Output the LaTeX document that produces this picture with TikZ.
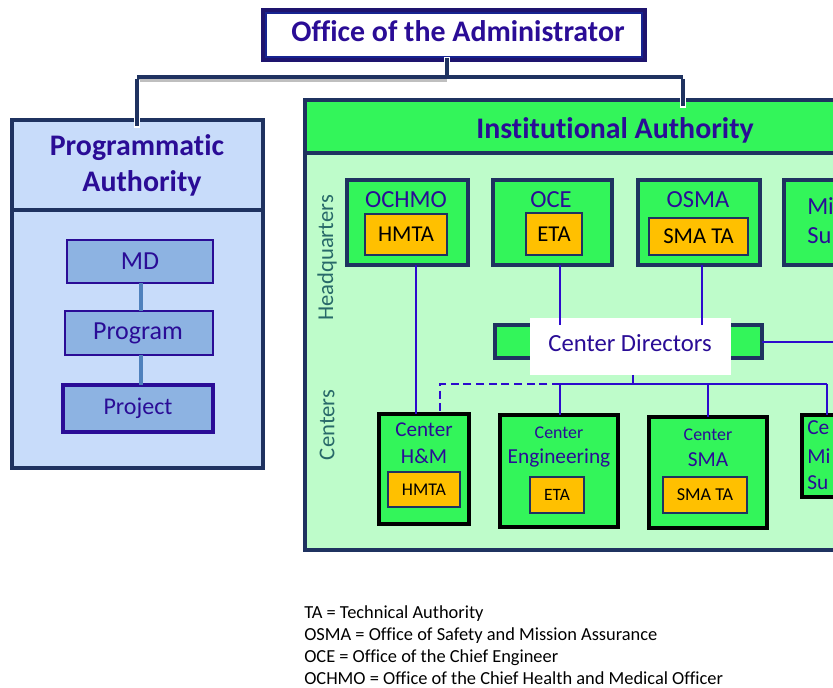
\documentclass[tikz,border=0pt]{standalone}
\usepackage{fontspec}
\setmainfont[Ligatures={NoCommon}]{Carlito}
\usetikzlibrary{calc}
\definecolor{ink}{RGB}{42,12,150}
\definecolor{navy}{RGB}{31,50,96}
\definecolor{bgreen}{RGB}{51,245,90}
\definecolor{lgreen}{RGB}{190,252,202}
\definecolor{lblue}{RGB}{200,220,250}
\definecolor{mblue}{RGB}{141,179,226}
\definecolor{orng}{RGB}{255,192,0}
\definecolor{wire}{RGB}{45,10,205}
\definecolor{tealtext}{RGB}{40,105,105}
\definecolor{pale}{RGB}{79,129,189}
\definecolor{ddeep}{RGB}{30,20,110}
\newcommand\fsz[1]{\fontsize{#1pt}{#1pt}\selectfont}
\newcommand\bx[6]{\node[#6, anchor=north west, inner sep=0pt, outer sep=0pt, minimum width={(#4-#2)*0.75pt}, minimum height={(#5-#3)*0.75pt}] (#1) at (#2,#3) {};}
\tikzset{
  lbl/.style={text=ink, inner sep=0pt, anchor=center},
  blk/.style={text=black, inner sep=0pt, anchor=center},
  hqbox/.style={fill=bgreen, draw=navy, line width=3.4pt},
  cbox/.style={fill=bgreen, draw=black, line width=2.6pt},
  tabox/.style={fill=orng, draw=navy, line width=1.5pt},
  pbox/.style={fill=mblue, draw=ink, line width=2.2pt},
  wireline/.style={draw=wire, line width=2.2pt},
  barline/.style={draw=navy, line width=2.4pt},
  barshadow/.style={draw=black!25, line width=2.4pt},
  casing/.style={draw=white, line width=4.5pt},
}
\begin{document}
\begin{tikzpicture}[x=0.75pt,y=-0.75pt]
\useasboundingbox (0,0) rectangle (833,688);
\clip (0,0) rectangle (833,688);
\fill[white] (0,0) rectangle (833,688);

% ---- Office of the Administrator
\bx{admin}{263}{10}{645}{60}{fill=white, draw=ddeep, line width=3pt}
\draw[navy!70!blue, line width=1pt] (admin.north west) ++(3,3) rectangle ($(admin.south east)+(-3,-3)$);
\node[lbl, font=\fsz{22.4}\bfseries] at (458,31) {Office of the Administrator};

% ---- Programmatic Authority
\bx{pa}{12}{120}{263}{468}{fill=lblue, draw=navy, line width=2.5pt}
\draw[navy, line width=2.5pt] (pa.west |- 0,210) -- (pa.east |- 0,210);
\node[lbl, font=\fsz{22.4}\bfseries] at (137,148) {Programmatic};
\node[lbl, font=\fsz{22.4}\bfseries] at (142,183) {Authority};
\bx{md}{67}{240}{213}{283}{pbox}
\bx{prog}{65}{311}{213}{355}{pbox}
\bx{proj}{63}{385}{213}{432}{pbox, line width=3pt}
\node[lbl, font=\fsz{19.5}] at (md.center) {MD};
\node[lbl, font=\fsz{19.5}] at (138,333) {Program};
\node[lbl, font=\fsz{18}] at (138,408) {Project};
\draw[pale, line width=2.4pt] (md.south -| 141,0) -- (prog.north -| 141,0);
\draw[pale, line width=2.4pt] (prog.south -| 141,0) -- (proj.north -| 141,0);

% ---- Institutional Authority
\bx{ia}{305}{100}{900}{550}{fill=lgreen, draw=navy, line width=2.5pt}
\bx{iah}{305}{100}{900}{153}{fill=bgreen, draw=navy, line width=2.5pt}
\node[lbl, font=\fsz{22.4}\bfseries] at (615,130) {Institutional Authority};
\node[lbl, text=tealtext, font=\fsz{17}, rotate=90] at (327,258) {Headquarters};
\node[lbl, text=tealtext, font=\fsz{17}, rotate=90] at (327,425) {Centers};

% HQ boxes
\bx{ochmo}{347}{180}{468}{265}{hqbox}
\bx{hmta1}{365}{214}{447}{255}{tabox}
\node[lbl, font=\fsz{18.4}] at (406,200) {OCHMO};
\node[blk, font=\fsz{17}] at (hmta1.center) {HMTA};

\bx{oce}{493}{180}{612}{265}{hqbox}
\bx{eta1}{526}{213}{582}{255}{tabox}
\node[lbl, font=\fsz{18.4}] at (551,200) {OCE};
\node[blk, font=\fsz{17}] at (eta1.center) {ETA};

\bx{osma}{638}{180}{760}{265}{hqbox}
\bx{smata1}{649}{218}{748}{255}{tabox}
\node[lbl, font=\fsz{18.4}] at (698,200) {OSMA};
\node[blk, font=\fsz{17}] at (smata1.center) {SMA TA};

\bx{mish}{784}{180}{900}{265}{hqbox}
\node[lbl, anchor=west, font=\fsz{18.4}] at (807,206) {Mi};
\node[lbl, anchor=west, font=\fsz{18.4}] at (807,236) {Su};

% Center Directors
\bx{cdbar}{495}{325}{762}{358}{hqbox}
\bx{cd}{530}{318}{731}{375}{fill=white}
\node[lbl, font=\fsz{18.5}] at (630,343) {Center Directors};

% Center boxes
\bx{hm}{379}{414}{469}{524}{cbox}
\bx{hmta2}{388}{472}{460}{507}{tabox}
\node[lbl, font=\fsz{15.8}] at (424,430) {Center};
\node[lbl, font=\fsz{16}] at (424,456) {H\&M};
\node[blk, font=\fsz{13.4}] at (hmta2.center) {HMTA};

\bx{ceng}{500}{415}{618}{527}{cbox}
\bx{eta2}{530}{477}{584}{513}{tabox}
\node[lbl, font=\fsz{13.4}] at (559,433) {Center};
\node[lbl, font=\fsz{16}] at (559,458) {Engineering};
\node[blk, font=\fsz{13}] at (eta2.center) {ETA};

\bx{csma}{649}{417}{767}{528}{cbox}
\bx{smata2}{663}{477}{747}{513}{tabox}
\node[lbl, font=\fsz{13.4}] at (708,435) {Center};
\node[lbl, font=\fsz{16}] at (708,460) {SMA};
\node[blk, font=\fsz{13.6}] at (smata2.center) {SMA TA};

\bx{cmis}{802}{415}{900}{497}{cbox}
\node[lbl, anchor=west, font=\fsz{16}] at (807,428) {Ce};
\node[lbl, anchor=west, font=\fsz{16}] at (807,456) {Mi};
\node[lbl, anchor=west, font=\fsz{16}] at (807,483) {Su};

% ---- wires
\coordinate (xo) at (416,0);
\coordinate (xe) at (560,0);
\coordinate (xs) at (702,0);
\coordinate (bus) at (0,384);
\coordinate (xd) at (440,0);
\coordinate (xm) at (827,0);
\coordinate (farR) at (900,342);
\draw[wireline] (ochmo.south -| xo) -- (hm.north -| xo);
\draw[wireline] (oce.south -| xe) -- (cdbar.north -| xe);
\draw[wireline] (osma.south -| xs) -- (cdbar.north -| xs);
\draw[wireline] (cdbar.east |- farR) -- (farR);
\draw[wireline] (cd.south -| 633,0) -- (bus -| 633,0);
\draw[wireline] (bus -| xe) -- (bus -| xm);
\draw[wireline] (bus -| xe) -- (ceng.north -| xe);
\draw[wireline] (bus -| csma.north) -- (csma.north);
\draw[wireline] (bus -| xm) -- (cmis.north -| xm);
\draw[wireline, dash pattern=on 6pt off 3.5pt] (bus -| xe) -- (bus -| xd) -- (hm.north -| xd);

% ---- top connector
\coordinate (jl) at (137,77);
\coordinate (jr) at (683,77);
\coordinate (jm) at (447,77);
\draw[barshadow] ($(jl)+(1,3)$) -- ($(jm)+(0,3)$);
\draw[barline] (jl) -- (jr);
\draw[casing] ($(admin.south -| jm)+(0,-3)$) -- ($(jm)+(0,-3)$);
\draw[barline] ($(admin.south -| jm)+(0,-2)$) -- ($(jm)+(0,-1)$);
\draw[casing] ($(jl)+(0,3)$) -- ($(pa.north -| jl)+(0,8)$);
\draw[barline] ($(jl)+(0,2)$) -- ($(pa.north -| jl)+(0,6)$);
\draw[casing] ($(jr)+(0,3)$) -- ($(iah.north -| jr)+(0,8)$);
\draw[barline] ($(jr)+(0,2)$) -- ($(iah.north -| jr)+(0,6)$);

% ---- legend
\node[blk, anchor=base west, font=\fsz{13.8}] (l1) at (304,618) {TA = Technical Authority};
\node[blk, anchor=base west, font=\fsz{13.8}] (l2) at (304,640) {OSMA = Office of Safety and Mission Assurance};
\node[blk, anchor=base west, font=\fsz{13.8}] (l3) at (304,662) {OCE = Office of the Chief Engineer};
\node[blk, anchor=base west, font=\fsz{13.8}] (l4) at (304,684) {OCHMO = Office of the Chief Health and Medical Officer};
\end{tikzpicture}
\end{document}
